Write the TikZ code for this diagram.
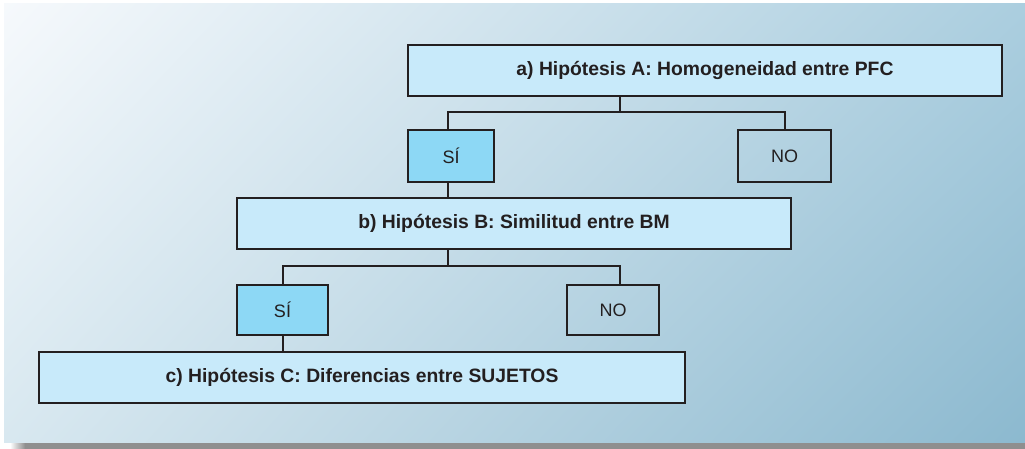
\documentclass[tikz,border=0pt]{standalone}
\usepackage{fontspec}
\setmainfont{Liberation Sans}
\usetikzlibrary{shadings}
\definecolor{hypfill}{HTML}{C8EAFA}
\definecolor{sifill}{HTML}{8DD8F5}
\definecolor{edge}{HTML}{231F20}
\definecolor{bgtl}{HTML}{F6F9FC}
\definecolor{bgtr}{HTML}{ABCEDF}
\definecolor{bgbl}{HTML}{D8E8F0}
\definecolor{bgbr}{HTML}{8CB9CF}
\definecolor{shadowgray}{HTML}{8F8F8F}
\tikzset{
  boxbase/.style={draw=edge, line width=1.4pt, rectangle, inner sep=0pt, text=edge},
  hypbox/.style={boxbase, fill=hypfill, font=\fontsize{14.5}{17}\selectfont\bfseries},
  sibox/.style={boxbase, fill=sifill, font=\fontsize{13.5}{16}\selectfont},
  nobox/.style={boxbase, font=\fontsize{13.5}{16}\selectfont},
  link/.style={draw=edge, line width=1.4pt}
}
\begin{document}
\begin{tikzpicture}[x=0.75pt,y=-0.75pt]
\useasboundingbox (0,0) rectangle (1025,449);
% shadow and panel
\shade[left color=white, right color=shadowgray, middle color=shadowgray] (10,10) rectangle (40,449);
\fill[shadowgray] (40,10) rectangle (1025,449);
\shade[upper left=bgtl, upper right=bgtr, lower left=bgbl, lower right=bgbr] (4,4) rectangle (1025,442);
% nodes
\node[hypbox, minimum width=445.5pt, minimum height=38.25pt] (A) at (705,70.5) {a) Hipótesis A: Homogeneidad entre PFC};
\node[sibox, minimum width=64.5pt, minimum height=39pt] (SI1) at (451,156) {SÍ};
\node[nobox, minimum width=69.75pt, minimum height=39pt] (NO1) at (784.5,156) {NO};
\node[hypbox, minimum width=415.5pt, minimum height=38.25pt] (B) at (514,223.5) {b) Hipótesis B: Similitud entre BM};
\node[sibox, minimum width=68.25pt, minimum height=37.5pt] (SI2) at (282.5,310) {SÍ};
\node[nobox, minimum width=69pt, minimum height=37.5pt] (NO2) at (613,310) {NO};
\node[hypbox, minimum width=484.5pt, minimum height=38.25pt] (C) at (362,377.5) {c) Hipótesis C: Diferencias entre SUJETOS};
% junctions
\coordinate (ka) at (620,112);
\coordinate (k1) at (448,112);
\coordinate (k2) at (785,112);
\coordinate (kb) at (448,266);
\coordinate (k3) at (283,266);
\coordinate (k4) at (620,266);
% connectors
\draw[link] (A.south -| ka) -- (ka);
\draw[link] (SI1.north -| k1) -- (k1) -- (k2) -- (NO1.north -| k2);
\draw[link] (SI1.south -| k1) -- (B.north -| k1);
\draw[link] (B.south -| kb) -- (kb);
\draw[link] (SI2.north -| k3) -- (k3) -- (k4) -- (NO2.north -| k4);
\draw[link] (SI2.south -| k3) -- (C.north -| k3);
\end{tikzpicture}
\end{document}
